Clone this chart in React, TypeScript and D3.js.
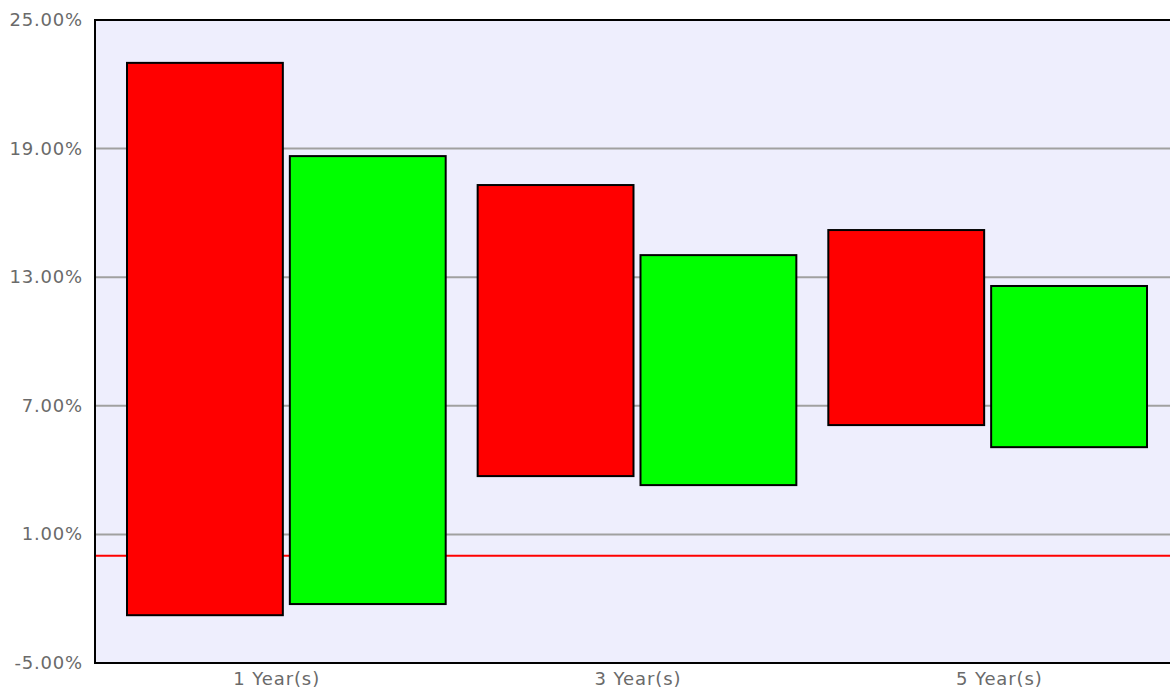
import React from "react";
import * as d3 from "d3";

// periods on the x axis
const periods = ["1 Year(s)", "3 Year(s)", "5 Year(s)"];
// floating bars: [low, high] in percent
const redLow = [-2.77, 3.72, 6.1];
const redHigh = [23.0, 17.3, 15.2];
const greenLow = [-2.25, 3.3, 5.07];
const greenHigh = [18.65, 14.03, 12.59];
const yTicks = [-5, 1, 7, 13, 19, 25];

const W = 1170, H = 690;
const left = 96, top = 20, bottom = 663;

export default function App() {
  const y = d3.scaleLinear().domain([-5, 25]).range([bottom, top]);

  // labels sit in the middle of equal thirds of the (clipped) plot width
  const xLabel = d3.scaleBand().domain(periods).range([left, 1180]);
  // bar pairs
  const xGroup = d3.scaleBand().domain(periods).range([127, 1147]).paddingInner(32 / 351).paddingOuter(0);
  const xSeries = d3.scaleBand().domain(["red", "green"]).range([0, xGroup.bandwidth()]).paddingInner(7 / 163);

  const series = [
    { key: "red", color: "#ff0000", low: redLow, high: redHigh },
    { key: "green", color: "#00ff00", low: greenLow, high: greenHigh },
  ];

  const fmt = (v: number) => v.toFixed(2) + "%";

  return (
    <svg width={W} height={H} style={{ position: "absolute", left: 0, top: 0 }}
      fontFamily="'DejaVu Sans', Verdana, sans-serif">
      <rect x={left} y={top} width={W - left} height={bottom - top} fill="#eeeefd" />

      {yTicks.filter((t) => t > -5 && t < 25).map((t) => (
        <line key={"g" + t} x1={left} x2={W} y1={y(t)} y2={y(t)} stroke="#a0a0a0" strokeWidth={2} />
      ))}

      <line x1={left} x2={W} y1={y(0)} y2={y(0)} stroke="#ff0000" strokeWidth={2} />

      {series.map((s) =>
        periods.map((p, i) => {
          const x0 = (xGroup(p) ?? 0) + (xSeries(s.key) ?? 0);
          return (
            <rect key={s.key + p} x={x0} y={y(s.high[i])} width={xSeries.bandwidth()}
              height={y(s.low[i]) - y(s.high[i])} fill={s.color} stroke="#000" strokeWidth={2} />
          );
        })
      )}

      <line x1={left - 1} x2={W} y1={top} y2={top} stroke="#000" strokeWidth={2} />
      <line x1={left - 1} x2={W} y1={bottom} y2={bottom} stroke="#000" strokeWidth={2} />
      <line x1={left - 1} x2={left - 1} y1={top - 1} y2={bottom + 1} stroke="#000" strokeWidth={2} />

      {yTicks.map((t) => (
        <text key={"t" + t} x={83} y={y(t)} dy="0.33em" textAnchor="end" fontSize={18}
          letterSpacing={0.8} fill="#6a6a6a">
          {fmt(t)}
        </text>
      ))}

      {periods.map((p) => (
        <text key={"x" + p} x={(xLabel(p) ?? 0) + xLabel.bandwidth() / 2} y={685} textAnchor="middle"
          fontSize={18} letterSpacing={0.9} fill="#6a6a6a">
          {p}
        </text>
      ))}
    </svg>
  );
}
